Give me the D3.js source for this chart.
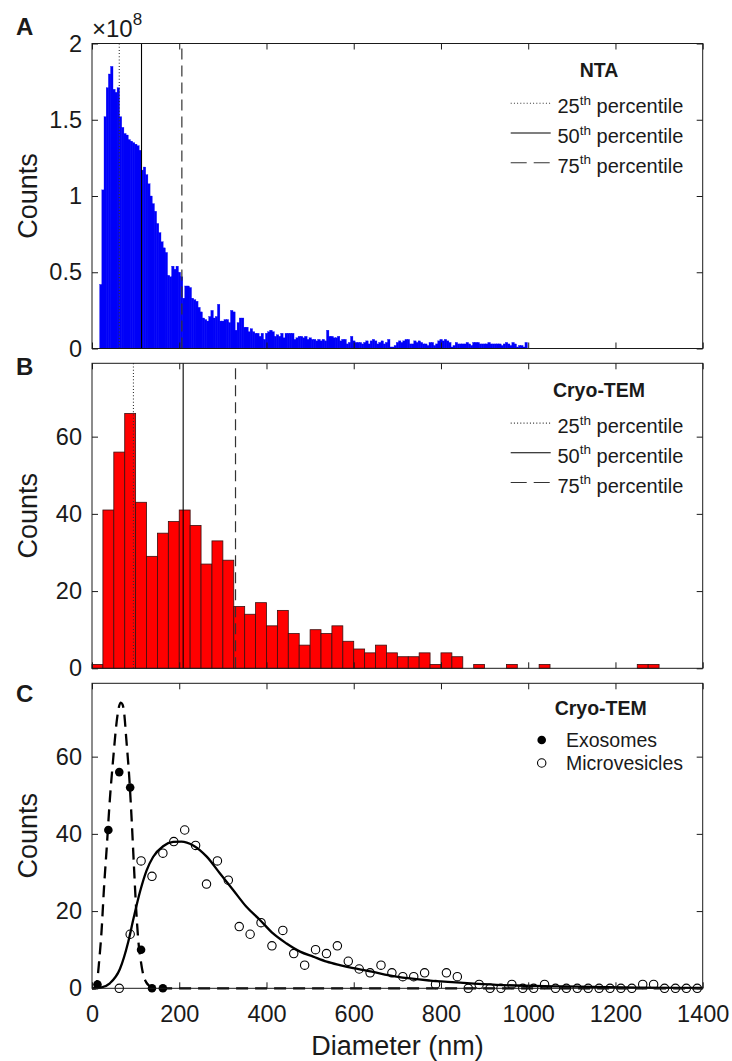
<!DOCTYPE html>
<html><head><meta charset="utf-8">
<script src="https://cdn.jsdelivr.net/npm/d3@7"></script>
<style>
body{margin:0;background:#fff}
svg{display:block}
text{font-family:"Liberation Sans",Arial,Helvetica,sans-serif;fill:#1a1a1a}
</style>
</head><body>
<svg id="c" width="732" height="1061"></svg>
<script>
// ---------- DATA ----------
const xTicks = [0, 200, 400, 600, 800, 1000, 1200, 1400];
const yTicksA = [0, 0.5, 1, 1.5, 2];
const yTickLabelsA = ["0", "0.5", "1", "1.5", "2"];
const yTicksBC = [0, 20, 40, 60];
const yTickLabelsBC = ["0", "20", "40", "60"];

// Panel A: NTA histogram, counts in units of 1e8, 5 nm bins starting at 17.5 nm
const ntaBinStart = 17.5;
const ntaBinWidth = 5;
const ntaCounts = [
  0.42, 1.04, 1.52, 1.71, 1.80, 1.85, 1.70, 1.68, 1.71, 1.52,
  1.45, 1.41, 1.40, 1.37, 1.36, 1.35, 1.34, 1.33, 1.30, 1.17,
  1.19, 1.14, 1.08, 1.00, 0.95, 0.90, 0.82, 0.76, 0.70, 0.66,
  0.63, 0.48, 0.47, 0.54, 0.52, 0.54, 0.50, 0.47, 0.33, 0.41,
  0.41, 0.40, 0.33, 0.32, 0.31, 0.27, 0.24, 0.20, 0.19, 0.18,
  0.21, 0.25, 0.20, 0.21, 0.29, 0.18, 0.18, 0.19, 0.19, 0.17,
  0.25, 0.24, 0.12, 0.17, 0.20, 0.20, 0.14, 0.14, 0.11, 0.13,
  0.11, 0.10, 0.10, 0.08, 0.10, 0.06, 0.10, 0.11, 0.12, 0.11,
  0.08, 0.09, 0.08, 0.10, 0.07, 0.10, 0.10, 0.10, 0.10, 0.06,
  0.07, 0.08, 0.08, 0.07, 0.08, 0.06, 0.07, 0.06, 0.06, 0.05,
  0.06, 0.05, 0.06, 0.05, 0.12, 0.08, 0.08, 0.07, 0.07, 0.08,
  0.05, 0.06, 0.06, 0.03, 0.04, 0.08, 0.05, 0.04, 0.04, 0.04,
  0.03, 0.04, 0.05, 0.03, 0.05, 0.06, 0.05, 0.03, 0.04, 0.05,
  0.03, 0.04, 0.06, 0.01, 0.01, 0.02, 0.04, 0.05, 0.04, 0.05,
  0.06, 0.06, 0.03, 0.03, 0.05, 0.04, 0.05, 0.04, 0.03, 0.03,
  0.02, 0.04, 0.04, 0.02, 0.03, 0.05, 0.06, 0.05, 0.06, 0.05,
  0.04, 0.01, 0.02, 0.04, 0.03, 0.03, 0.03, 0.03, 0.04, 0.03,
  0.02, 0.04, 0.04, 0.04, 0.03, 0.03, 0.03, 0.03, 0.04, 0.03,
  0.03, 0.03, 0.03, 0.03, 0.02, 0.03, 0.04, 0.03, 0.02, 0.04,
  0.03, 0.01, 0.02, 0.02, 0.01, 0.04
];
const ntaPercentiles = [62.5, 113.5, 206];

// Panel B: Cryo-TEM histogram, 25 nm bins starting at 0 nm
const temBinStart = 0;
const temBinWidth = 25;
const temCounts = [
  1, 41, 56, 66, 43, 29, 35, 38, 41, 37,
  27, 33, 28, 16, 14, 17, 11, 15, 9, 6,
  10, 9, 11, 7, 5, 4, 6, 4, 3, 3,
  4, 1, 4, 3, 0, 1, 0, 0, 1, 0,
  0, 1, 0, 0, 0, 0, 0, 0, 0, 0,
  1, 1
];
const temPercentiles = [95, 209, 329];

// Panel C: exosomes (filled) and microvesicles (open)
const exoX = [12.5, 37.5, 62.5, 87.5, 112.5, 137.5, 162.5];
const exoY = [1, 41, 56, 52, 10, 0, 0];
const mvX = [
  62.5, 87.5, 112.5, 137.5, 162.5, 187.5, 212.5, 237.5, 262.5, 287.5,
  312.5, 337.5, 362.5, 387.5, 412.5, 437.5, 462.5, 487.5, 512.5, 537.5,
  562.5, 587.5, 612.5, 637.5, 662.5, 687.5, 712.5, 737.5, 762.5, 787.5,
  812.5, 837.5, 862.5, 887.5, 912.5, 937.5, 962.5, 987.5, 1012.5, 1037.5,
  1062.5, 1087.5, 1112.5, 1137.5, 1162.5, 1187.5, 1212.5, 1237.5, 1262.5, 1287.5,
  1312.5, 1337.5, 1362.5, 1387.5
];
const mvY = [
  0, 14, 33, 29, 35, 38, 41, 37, 27, 33,
  28, 16, 14, 17, 11, 15, 9, 6, 10, 9,
  11, 7, 5, 4, 6, 4, 3, 3, 4, 1,
  4, 3, 0, 1, 0, 0, 1, 0, 0, 1,
  0, 0, 0, 0, 0, 0, 0, 0, 1, 1,
  0, 0, 0, 0
];
// fitted curves
const exoFitX = [0, 8, 12, 16, 22, 27.5, 33.5, 41, 49, 56.5, 62, 66, 70, 73, 79, 85.5, 91, 96, 101, 106, 111.5, 117.5, 124, 132, 145, 1400];
const exoFitY = [0, 0, 2, 6.5, 15, 26, 36, 49, 60, 69, 73, 74, 73.5, 72, 64, 54.5, 43.5, 32, 21, 12.6, 7.4, 3.5, 1.6, 0.6, 0, 0];
const mvFitX = [0, 20, 41, 64, 83, 95, 110, 125, 140, 163, 186, 205, 232, 263, 293, 324, 354, 385, 415, 446, 477, 507, 538, 568, 599, 629, 698, 775, 851, 927, 1080, 1250, 1400];
const mvFitY = [0, 0.2, 1.3, 5, 12, 18, 25, 30.5, 34, 36.8, 37.9, 38, 37, 34.1, 29.8, 25.4, 21.1, 17.7, 14.2, 11.6, 9.5, 8.2, 6.9, 6.0, 5.2, 4.6, 3.0, 2.0, 1.4, 0.9, 0.5, 0.2, 0.1];

const legendRows = ["25", "50", "75"];

// ---------- DRAW ----------
const svg = d3.select("#c");
const ink = "#1a1a1a";
const x = d3.scaleLinear().domain([0, 1400]).range([92, 702.7]);
const yA = d3.scaleLinear().domain([0, 2]).range([348.5, 43.5]);
const yB = d3.scaleLinear().domain([0, 79]).range([668.3, 363.3]);
const yC = d3.scaleLinear().domain([0, 79]).range([988.3, 683.3]);

function frame(y, yticks, ylabels, showX) {
  const g = svg.append("g");
  const [b, t] = y.range();
  const styleAxis = sel => {
    sel.select(".domain").remove();
    sel.selectAll(".tick line").attr("stroke", ink).attr("stroke-width", 1);
    sel.selectAll(".tick text").attr("font-size", 23.5).attr("fill", ink)
      .attr("font-family", '"Liberation Sans",Arial,sans-serif');
  };
  g.append("g").attr("transform", `translate(0,${b})`)
    .call(d3.axisBottom(x).tickValues(xTicks).tickSize(-6).tickSizeOuter(0).tickPadding(17)
      .tickFormat(showX ? d3.format("d") : () => ""))
    .call(styleAxis);
  g.append("g").attr("transform", `translate(0,${t})`)
    .call(d3.axisTop(x).tickValues(xTicks).tickSize(-6).tickSizeOuter(0).tickFormat(() => ""))
    .call(styleAxis);
  g.append("g").attr("transform", `translate(${x.range()[0]},0)`)
    .call(d3.axisLeft(y).tickValues(yticks).tickSize(-6).tickSizeOuter(0).tickPadding(10)
      .tickFormat((d, i) => ylabels[i]))
    .call(styleAxis);
  g.append("g").attr("transform", `translate(${x.range()[1]},0)`)
    .call(d3.axisRight(y).tickValues(yticks).tickSize(-6).tickSizeOuter(0).tickFormat(() => ""))
    .call(styleAxis);
  g.append("rect").attr("x", x.range()[0]).attr("y", t)
    .attr("width", x.range()[1] - x.range()[0]).attr("height", b - t)
    .attr("fill", "none").attr("stroke", ink).attr("stroke-width", 1);
  svg.append("text").attr("transform", `translate(37,${(b + t) / 2}) rotate(-90)`)
    .attr("text-anchor", "middle").attr("font-size", 27).text("Counts");
}

const pctStyles = [
  {dash: "1,2.2", color: "#333", w: 1.1},
  {dash: null, color: "#000", w: 1.1},
  {dash: "11,6", color: "#333", w: 1.2}
];
const legendDash = ["1,2.2", null, "16,7"];

function percentileLines(y, vals) {
  const [b, t] = y.range();
  vals.forEach((v, i) => {
    svg.append("line").attr("x1", x(v)).attr("x2", x(v)).attr("y1", b).attr("y2", t)
      .attr("stroke", pctStyles[i].color).attr("stroke-width", pctStyles[i].w)
      .attr("stroke-dasharray", pctStyles[i].dash);
  });
}

function percentileLegend(title, top) {
  svg.append("text").attr("x", 599).attr("y", top + 33.3).attr("text-anchor", "middle")
    .attr("font-size", 19.5).attr("font-weight", "bold").text(title);
  legendRows.forEach((r, i) => {
    const base = top + 69.8 + i * 29.7;
    svg.append("line").attr("x1", 510.7).attr("x2", 550.7).attr("y1", base - 10).attr("y2", base - 10)
      .attr("stroke", i === 1 ? "#000" : "#333").attr("stroke-width", 1.1)
      .attr("stroke-dasharray", legendDash[i]);
    const t = svg.append("text").attr("x", 557.5).attr("y", base).attr("font-size", 20);
    t.append("tspan").text(r);
    t.append("tspan").attr("font-size", 13.5).attr("dy", -8.5).text("th");
    t.append("tspan").attr("dy", 8.5).text(" percentile");
  });
}

// ---- Panel A ----
svg.append("g").selectAll("rect").data(ntaCounts).join("rect")
  .attr("x", (d, i) => x(ntaBinStart + i * ntaBinWidth))
  .attr("width", (d, i) => x(ntaBinStart + (i + 1) * ntaBinWidth) - x(ntaBinStart + i * ntaBinWidth) + 0.3)
  .attr("y", d => yA(d))
  .attr("height", d => yA(0) - yA(d))
  .attr("fill", "#0000f8").attr("stroke", "#0000f8").attr("stroke-width", 0.3);
percentileLines(yA, ntaPercentiles);
frame(yA, yTicksA, yTickLabelsA, false);
const ex = svg.append("text").attr("x", 92).attr("y", 37).attr("font-size", 24);
ex.append("tspan").text("×10");
ex.append("tspan").attr("font-size", 17).attr("dy", -12).text("8");
percentileLegend("NTA", 43.5);

// ---- Panel B ----
svg.append("g").selectAll("rect").data(temCounts.map((c, i) => ({c, i})).filter(d => d.c > 0)).join("rect")
  .attr("x", d => x(temBinStart + d.i * temBinWidth))
  .attr("width", d => x(temBinStart + (d.i + 1) * temBinWidth) - x(temBinStart + d.i * temBinWidth))
  .attr("y", d => yB(d.c))
  .attr("height", d => yB(0) - yB(d.c))
  .attr("fill", "#ff0000").attr("stroke", "#3a1010").attr("stroke-width", 0.8);
percentileLines(yB, temPercentiles);
frame(yB, yTicksBC, yTickLabelsBC, false);
percentileLegend("Cryo-TEM", 363.3);

// ---- Panel C ----
const lineC = (xs, ys) => d3.line().x((d, i) => x(xs[i])).y((d, i) => yC(ys[i])).curve(d3.curveMonotoneX)(xs);
svg.append("path").attr("d", lineC(exoFitX, exoFitY)).attr("fill", "none")
  .attr("stroke", "#000").attr("stroke-width", 2.3).attr("stroke-dasharray", "12,7");
svg.append("path").attr("d", lineC(mvFitX, mvFitY)).attr("fill", "none")
  .attr("stroke", "#000").attr("stroke-width", 2.3);
svg.append("g").selectAll("circle").data(mvX).join("circle")
  .attr("cx", d => x(d)).attr("cy", (d, i) => yC(mvY[i])).attr("r", 4.2)
  .attr("fill", "none").attr("stroke", "#000").attr("stroke-width", 1.1);
svg.append("g").selectAll("circle").data(exoX).join("circle")
  .attr("cx", d => x(d)).attr("cy", (d, i) => yC(exoY[i])).attr("r", 4.3)
  .attr("fill", "#000");
frame(yC, yTicksBC, yTickLabelsBC, true);
svg.append("text").attr("x", 397.5).attr("y", 1055).attr("text-anchor", "middle")
  .attr("font-size", 27).text("Diameter (nm)");
// legend C
svg.append("text").attr("x", 600.7).attr("y", 715).attr("text-anchor", "middle")
  .attr("font-size", 19.5).attr("font-weight", "bold").text("Cryo-TEM");
svg.append("circle").attr("cx", 541.7).attr("cy", 740).attr("r", 4.3).attr("fill", "#000");
svg.append("text").attr("x", 566).attr("y", 746.5).attr("font-size", 19.5).text("Exosomes");
svg.append("circle").attr("cx", 541.7).attr("cy", 763).attr("r", 4.2).attr("fill", "none")
  .attr("stroke", "#000").attr("stroke-width", 1.1);
svg.append("text").attr("x", 566).attr("y", 770).attr("font-size", 19.5).text("Microvesicles");

// panel letters
[["A", 35], ["B", 375], ["C", 702]].forEach(([l, yb]) => {
  svg.append("text").attr("x", 16).attr("y", yb).attr("font-size", 24).attr("font-weight", "bold").text(l);
});
</script>
</body></html>
